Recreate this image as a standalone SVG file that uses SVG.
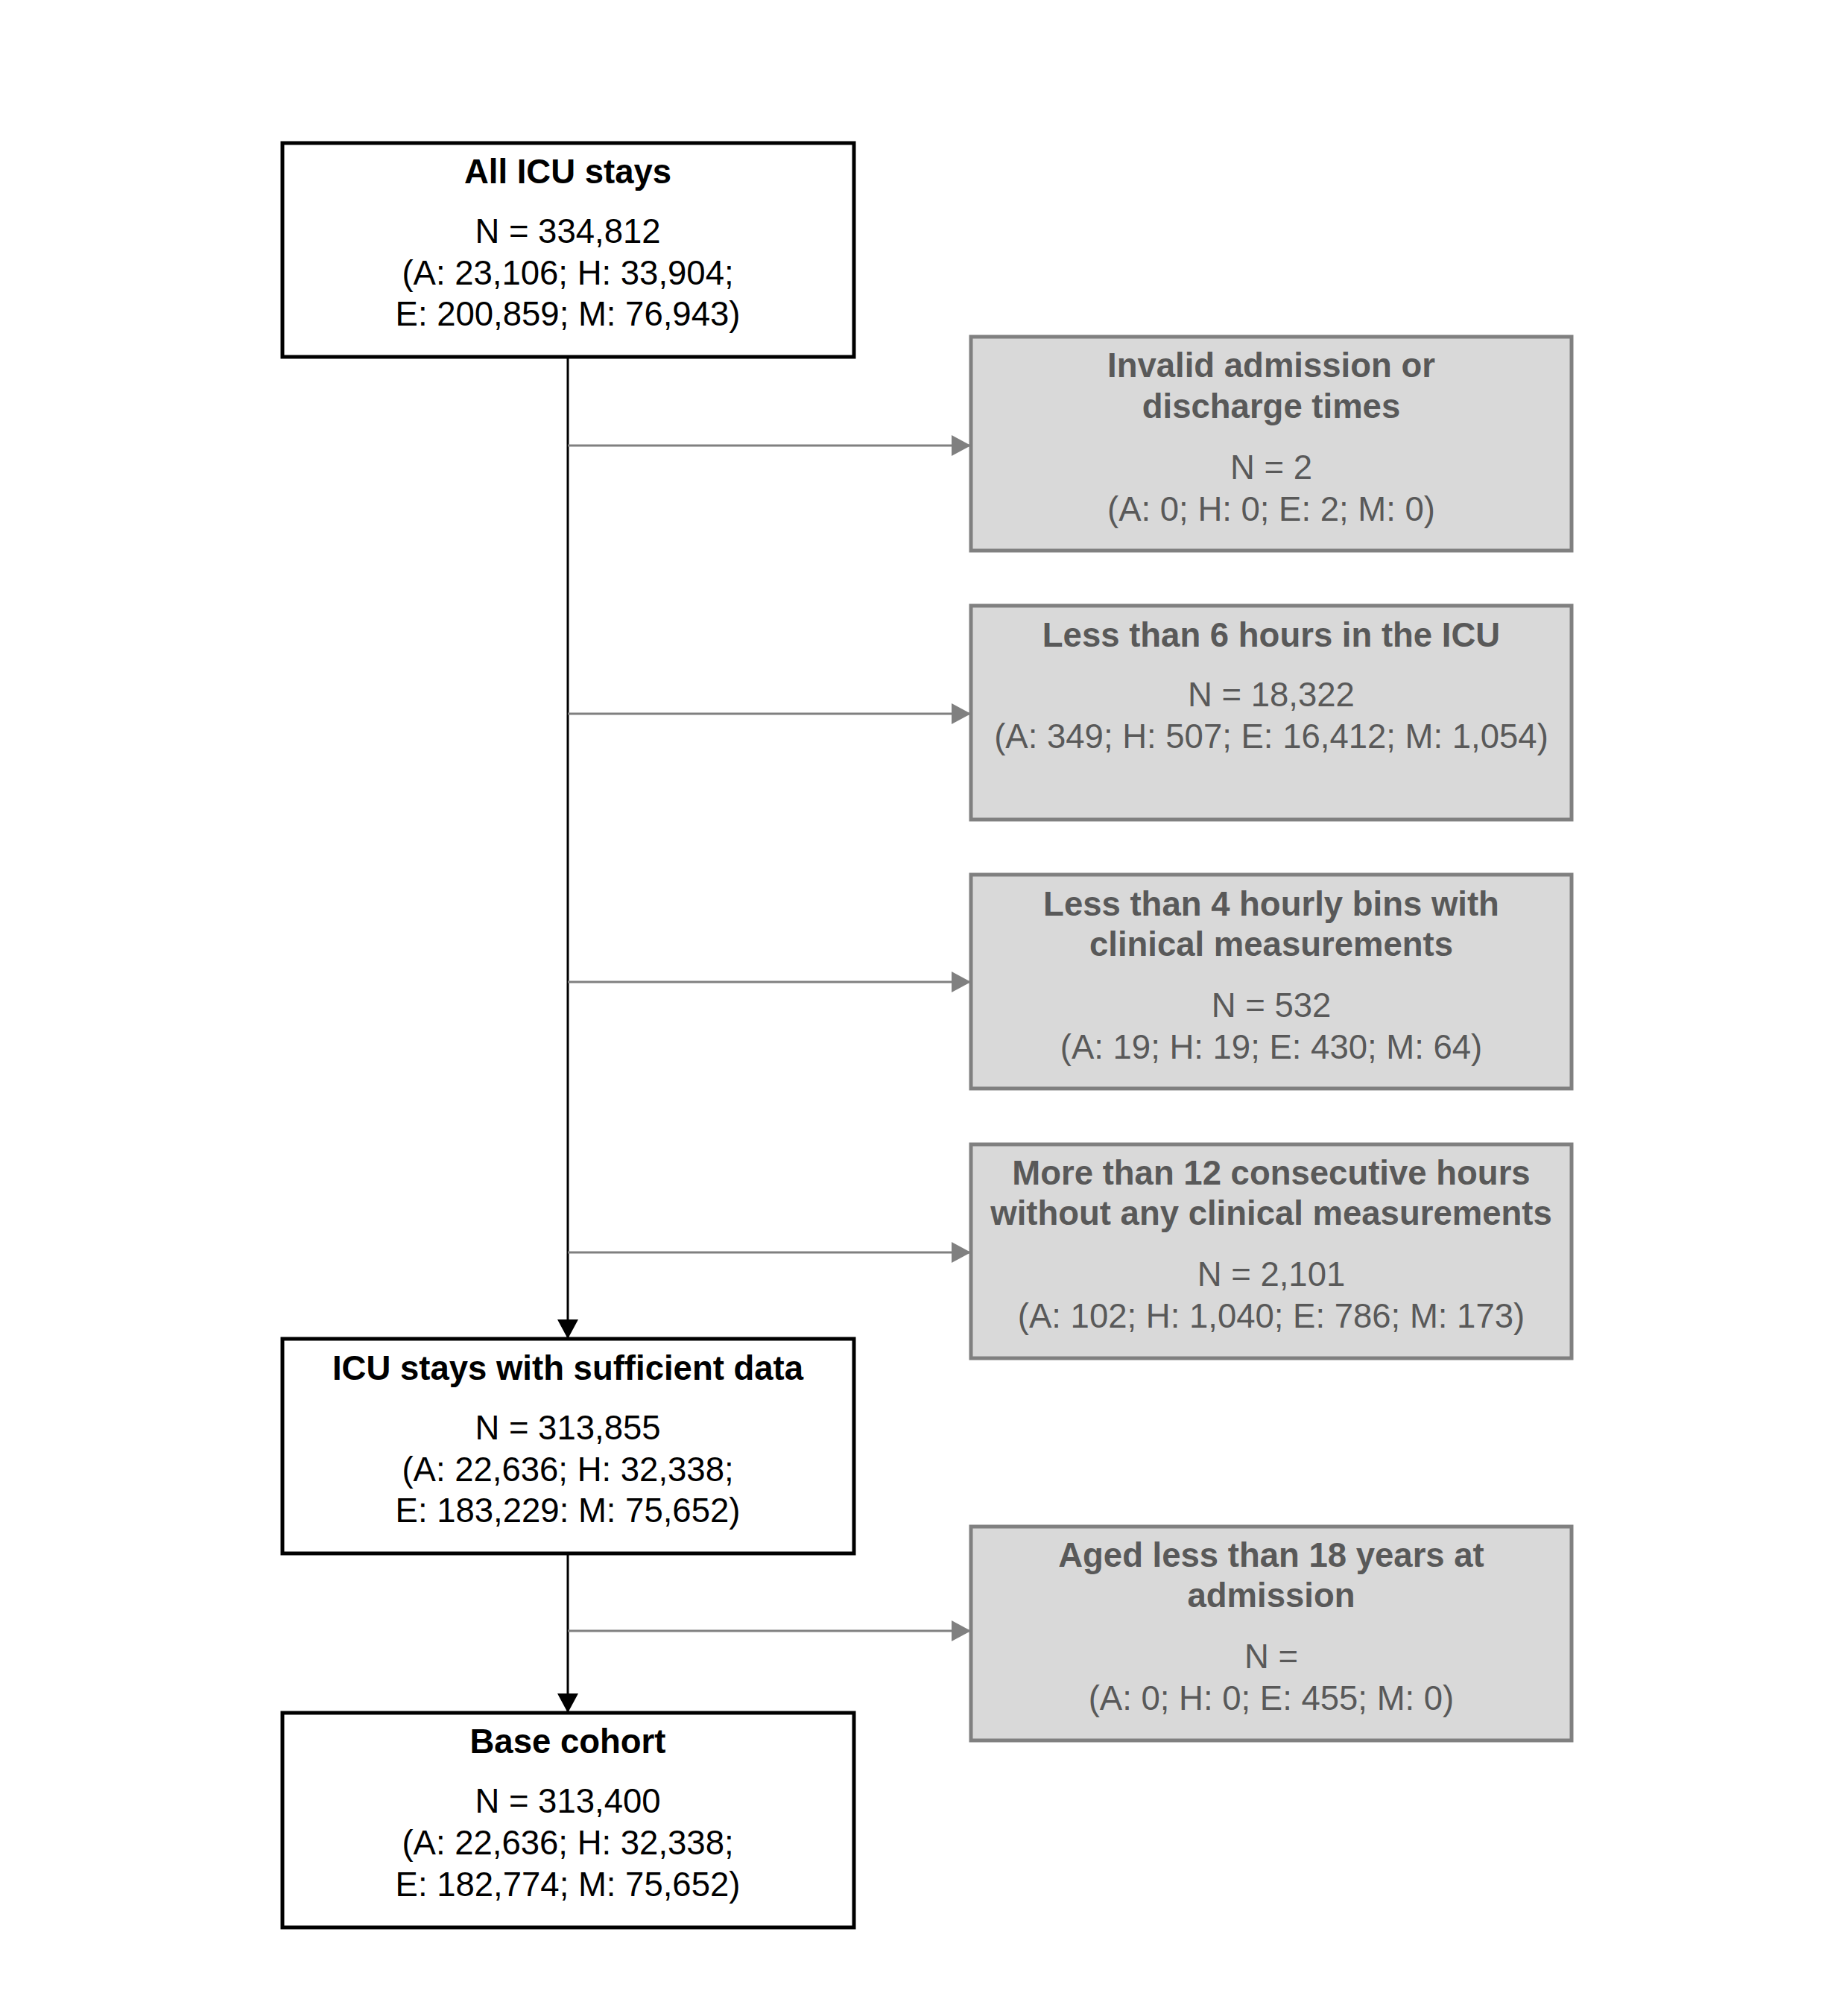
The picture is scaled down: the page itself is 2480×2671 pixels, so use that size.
<svg xmlns="http://www.w3.org/2000/svg" width="2480" height="2671" viewBox="0 0 2480 2671">
<style>
.main rect{fill:#ffffff;stroke:#000000;stroke-width:5}
.excl rect{fill:#d9d9d9;stroke:#808080;stroke-width:5}
text{font-family:"Liberation Sans",Arial,sans-serif;font-size:45.5px;text-anchor:middle}
.main text{fill:#000000}
.excl text{fill:#595959}
.b{font-weight:bold}
.flow{stroke:#000000;stroke-width:3;fill:none}
.branch{stroke:#808080;stroke-width:3;fill:none}
</style>
<defs>
<marker id="ah" markerUnits="userSpaceOnUse" markerWidth="26" markerHeight="28" refX="26" refY="14" orient="auto">
<path d="M0,0 L26,14 L0,28 Z" fill="#000000"/>
</marker>
<marker id="ag" markerUnits="userSpaceOnUse" markerWidth="26" markerHeight="28" refX="26" refY="14" orient="auto">
<path d="M0,0 L26,14 L0,28 Z" fill="#808080"/>
</marker>
</defs>
<rect width="2480" height="2671" fill="#ffffff"/>
<g id="connectors">
<line class="flow" x1="762" y1="479" x2="762" y2="1797" marker-end="url(#ah)"/>
<line class="flow" x1="762" y1="2085" x2="762" y2="2299" marker-end="url(#ah)"/>
<line class="branch" x1="762" y1="598" x2="1303" y2="598" marker-end="url(#ag)"/>
<line class="branch" x1="762" y1="958" x2="1303" y2="958" marker-end="url(#ag)"/>
<line class="branch" x1="762" y1="1318" x2="1303" y2="1318" marker-end="url(#ag)"/>
<line class="branch" x1="762" y1="1681" x2="1303" y2="1681" marker-end="url(#ag)"/>
<line class="branch" x1="762" y1="2189" x2="1303" y2="2189" marker-end="url(#ag)"/>
</g>
<g id="all-icu-stays" class="main">
<rect x="379" y="192" width="767" height="287"/>
<text x="762" y="246" class="b">All ICU stays</text>
<text x="762" y="326">N = 334,812</text>
<text x="762" y="382">(A: 23,106; H: 33,904;</text>
<text x="762" y="437">E: 200,859; M: 76,943)</text>
</g>
<g id="invalid-times" class="excl">
<rect x="1303" y="452" width="806" height="287"/>
<text x="1706" y="506" class="b">Invalid admission or</text>
<text x="1706" y="561" class="b">discharge times</text>
<text x="1706" y="643">N = 2</text>
<text x="1706" y="699">(A: 0; H: 0; E: 2; M: 0)</text>
</g>
<g id="less-6-hours" class="excl">
<rect x="1303" y="813" width="806" height="287"/>
<text x="1706" y="868" class="b">Less than 6 hours in the ICU</text>
<text x="1706" y="948">N = 18,322</text>
<text x="1706" y="1004">(A: 349; H: 507; E: 16,412; M: 1,054)</text>
</g>
<g id="less-4-bins" class="excl">
<rect x="1303" y="1174" width="806" height="287"/>
<text x="1706" y="1229" class="b">Less than 4 hourly bins with</text>
<text x="1706" y="1283" class="b">clinical measurements</text>
<text x="1706" y="1365">N = 532</text>
<text x="1706" y="1421">(A: 19; H: 19; E: 430; M: 64)</text>
</g>
<g id="more-12-hours" class="excl">
<rect x="1303" y="1536" width="806" height="287"/>
<text x="1706" y="1590" class="b">More than 12 consecutive hours</text>
<text x="1706" y="1644" class="b">without any clinical measurements</text>
<text x="1706" y="1726">N = 2,101</text>
<text x="1706" y="1782">(A: 102; H: 1,040; E: 786; M: 173)</text>
</g>
<g id="sufficient-data" class="main">
<rect x="379" y="1797" width="767" height="288"/>
<text x="762" y="1852" class="b">ICU stays with sufficient data</text>
<text x="762" y="1932">N = 313,855</text>
<text x="762" y="1988">(A: 22,636; H: 32,338;</text>
<text x="762" y="2043">E: 183,229: M: 75,652)</text>
</g>
<g id="aged-under-18" class="excl">
<rect x="1303" y="2049" width="806" height="287"/>
<text x="1706" y="2103" class="b">Aged less than 18 years at</text>
<text x="1706" y="2157" class="b">admission</text>
<text x="1706" y="2239">N = </text>
<text x="1706" y="2295">(A: 0; H: 0; E: 455; M: 0)</text>
</g>
<g id="base-cohort" class="main">
<rect x="379" y="2299" width="767" height="288"/>
<text x="762" y="2353" class="b">Base cohort</text>
<text x="762" y="2433">N = 313,400</text>
<text x="762" y="2489">(A: 22,636; H: 32,338;</text>
<text x="762" y="2545">E: 182,774; M: 75,652)</text>
</g>
</svg>
